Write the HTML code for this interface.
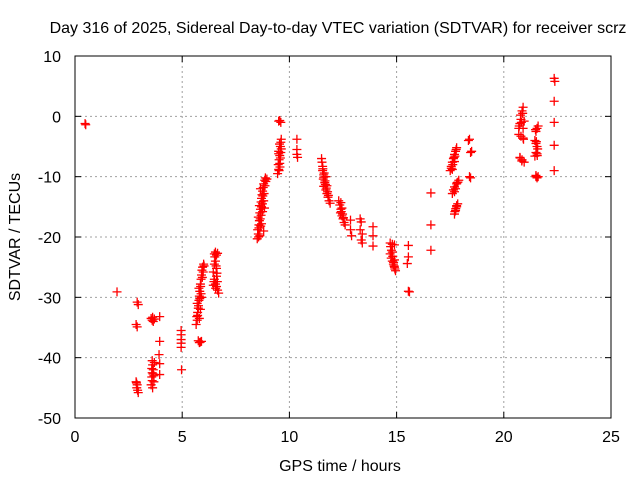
<!DOCTYPE html>
<html><head><meta charset="utf-8"><style>
body{margin:0;background:#fff}
svg{display:block;font-family:"Liberation Sans",sans-serif}
</style></head><body>
<svg id="chart" width="640" height="480">
<text x="338" y="33" text-anchor="middle" font-size="16">Day 316 of 2025, Sidereal Day-to-day VTEC variation (SDTVAR) for receiver scrz</text>
<text x="0" y="0" transform="translate(20,237) rotate(-90)" text-anchor="middle" font-size="16">SDTVAR / TECUs</text>
<text x="340" y="471" text-anchor="middle" font-size="16">GPS time / hours</text>
<g id="grid"></g>
<g id="ticks"></g>
<g id="points"></g>
<rect x="75" y="56" width="536" height="362" fill="none" stroke="#000" stroke-width="1"/>
</svg>
<script>
const xTicks=[0,5,10,15,20,25];
const yTicks=[10,0,-10,-20,-30,-40,-50];
const times=[0.47,0.5,1.96,2.9,2.95,2.85,2.9,2.85,2.9,2.88,2.92,2.95,2.87,3.55,3.6,3.65,3.7,3.62,3.95,3.6,3.62,3.65,3.6,3.58,3.6,3.55,3.62,3.7,3.68,3.95,3.92,3.95,3.95,4.95,4.95,4.95,4.95,4.95,4.97,5.75,5.8,5.85,5.9,5.65,5.7,5.68,5.72,5.75,5.7,5.78,5.8,5.82,5.78,5.85,5.88,5.9,5.92,5.95,6.0,5.9,5.85,6.5,6.55,6.6,6.65,6.5,6.55,6.6,6.45,6.5,6.55,6.6,6.65,6.7,6.45,6.6,8.5,8.55,8.52,8.58,8.6,8.55,8.62,8.65,8.6,8.68,8.7,8.72,8.75,8.78,8.8,8.85,8.88,8.7,8.75,8.8,8.65,8.8,9.5,9.55,9.6,9.45,9.5,9.48,9.52,9.55,9.5,9.58,9.6,9.62,9.55,9.6,10.35,10.35,10.35,10.38,11.5,11.52,11.55,11.55,11.6,11.58,11.65,11.6,11.7,11.75,11.8,11.85,11.9,11.7,11.75,12.3,12.35,12.4,12.38,12.45,12.5,12.55,12.6,12.45,12.85,12.85,12.9,13.3,13.35,13.3,13.4,13.35,13.4,13.9,13.9,13.9,14.7,14.8,14.9,14.7,14.75,14.8,14.85,14.9,14.95,14.8,14.9,15.55,15.55,15.5,15.55,15.6,16.6,16.6,16.6,17.5,17.55,17.6,17.65,17.7,17.75,17.8,17.6,17.7,18.35,18.4,18.45,18.5,18.4,18.45,17.6,17.65,17.7,17.8,17.9,17.75,17.7,17.75,17.8,17.85,17.72,20.7,20.75,20.8,20.78,20.85,20.9,20.95,20.9,20.7,20.8,20.9,20.75,20.85,20.95,21.5,21.55,21.6,21.45,21.5,21.55,21.5,21.45,21.55,21.5,21.55,21.6,22.35,22.38,22.35,22.35,22.35,22.35,
3.58,3.68,3.64,5.72,5.76,5.82,5.86,5.94,5.98,6.02,5.8,5.88,6.52,6.58,6.62,6.48,6.56,6.64,8.58,8.64,8.7,8.74,8.82,8.86,8.9,8.95,8.62,8.68,8.76,8.84,8.56,8.66,9.52,9.56,9.58,9.5,9.62,9.54,11.56,11.62,11.66,11.72,11.78,11.82,11.6,11.68,12.42,12.48,12.52,12.4,14.72,14.76,14.82,14.86,14.88,14.92,17.55,17.62,17.68,17.72,17.78,17.7,17.82,17.86,17.76,17.8,20.72,20.82,20.88,20.76,20.84,20.92,21.48,21.52,21.58,21.5,21.56];
const values=[-1.2,-1.4,-29.1,-30.8,-31.2,-34.5,-34.9,-44.0,-44.5,-45.0,-45.4,-45.8,-44.2,-33.5,-33.8,-34.0,-33.6,-33.3,-33.2,-40.5,-41.2,-42.0,-42.5,-43.2,-43.8,-44.5,-45.0,-40.8,-43.0,-37.3,-39.5,-41.0,-42.8,-35.5,-36.2,-37.0,-37.6,-38.3,-42.0,-37.2,-37.5,-37.4,-37.3,-34.5,-33.8,-33.2,-32.5,-31.8,-31.0,-30.5,-29.8,-29.0,-28.5,-27.8,-27.0,-26.3,-25.5,-25.0,-24.5,-30.0,-32.0,-22.8,-22.5,-23.0,-22.7,-24.5,-24.0,-25.2,-25.8,-27.0,-27.8,-28.2,-28.8,-29.3,-28.0,-26.5,-20.3,-19.5,-18.8,-18.0,-17.3,-16.7,-16.0,-15.4,-14.8,-14.2,-13.6,-13.0,-12.4,-11.8,-11.2,-10.6,-10.2,-17.8,-15.8,-19.0,-12.0,-14.0,-0.8,-0.7,-1.0,-9.5,-8.8,-8.0,-7.2,-6.5,-5.8,-5.0,-4.3,-3.8,-7.8,-6.0,-3.8,-5.5,-6.3,-6.8,-7.0,-7.6,-8.3,-9.0,-9.7,-10.4,-11.0,-11.6,-12.2,-12.8,-13.4,-14.0,-14.4,-10.0,-11.5,-14.0,-14.7,-15.4,-16.0,-16.5,-17.0,-17.6,-18.0,-15.2,-17.2,-18.8,-19.8,-17.0,-17.5,-18.8,-19.5,-20.5,-21.0,-18.3,-19.8,-21.5,-21.0,-21.2,-21.3,-22.8,-23.5,-24.0,-24.5,-25.0,-25.6,-22.5,-23.8,-21.4,-23.3,-24.4,-29.0,-29.1,-12.7,-18.0,-22.2,-9.0,-8.3,-7.6,-7.0,-6.3,-5.8,-5.2,-8.8,-7.5,-4.0,-3.8,-6.0,-5.8,-10.0,-10.2,-12.8,-12.2,-11.7,-11.2,-10.6,-12.0,-16.2,-15.6,-15.0,-14.5,-15.8,-2.0,-1.2,-0.5,0.2,0.9,1.5,-0.8,-2.0,-3.0,-3.3,-3.6,-6.8,-7.2,-7.6,-2.5,-2.0,-1.6,-4.0,-4.5,-5.0,-6.0,-6.6,-6.2,-9.8,-10.2,-10.0,6.3,5.8,2.5,-1.0,-4.8,-9.0,
-41.8,-44.0,-42.7,-33.0,-31.4,-30.2,-28.2,-26.7,-25.8,-24.8,-33.5,-29.4,-23.3,-24.8,-26.0,-27.4,-28.5,-27.4,-18.5,-17.0,-15.0,-14.5,-12.8,-11.5,-10.8,-10.4,-19.8,-16.4,-13.2,-15.2,-20.0,-18.2,-9.0,-8.4,-6.9,-6.2,-5.4,-4.6,-8.7,-9.4,-10.7,-11.9,-12.5,-13.1,-10.1,-11.3,-15.8,-16.2,-16.8,-14.3,-21.6,-22.2,-23.2,-24.2,-24.8,-25.3,-8.6,-8.0,-6.8,-6.6,-5.5,-12.5,-11.0,-10.9,-15.3,-14.8,-1.6,-1.0,0.5,-6.9,-7.4,-3.8,-2.2,-4.2,-5.4,-10.0,-6.5];
const X0=75,X1=611,Y0=56,Y1=418;
function sx(t){return X0+(t-0)/(25-0)*(X1-X0);}
function sy(v){return Y0+(10-v)/(10-(-50))*(Y1-Y0);}
const NS='http://www.w3.org/2000/svg';
function mk(tag,attrs,parent){const e=document.createElementNS(NS,tag);for(const k in attrs)e.setAttribute(k,attrs[k]);parent.appendChild(e);return e;}
const grid=document.getElementById('grid'),ticks=document.getElementById('ticks'),pts=document.getElementById('points');
xTicks.forEach(t=>{const x=sx(t);
 if(t>0&&t<25){const g=mk('line',{x1:x,y1:Y0,x2:x,y2:Y1,stroke:'#a0a0a0','stroke-dasharray':'2,3'},grid);
 
 }
 mk('line',{x1:x,y1:Y1,x2:x,y2:Y1-6,stroke:'#000'},ticks);
 mk('line',{x1:x,y1:Y0,x2:x,y2:Y0+6,stroke:'#000'},ticks);
 const l=mk('text',{x:x,y:Y1+24,'text-anchor':'middle','font-size':'16'},ticks);l.textContent=t;
 
 
});
yTicks.forEach(v=>{const y=sy(v);
 if(v<10&&v>-50){const g=mk('line',{x1:X0,y1:y,x2:X1,y2:y,stroke:'#a0a0a0','stroke-dasharray':'2,3'},grid);
 
 }
 mk('line',{x1:X0,y1:y,x2:X0+6,y2:y,stroke:'#000'},ticks);
 mk('line',{x1:X1,y1:y,x2:X1-6,y2:y,stroke:'#000'},ticks);
 const l=mk('text',{x:X0-14,y:y+6,'text-anchor':'end','font-size':'16'},ticks);l.textContent=v;
 
 
});
times.forEach((t,i)=>{const x=sx(t),y=sy(values[i]);
 const p=mk('path',{d:`M${x-4.5},${y}H${x+4.5}M${x},${y-4.5}V${y+4.5}`,stroke:'#f00','stroke-width':'1.3',fill:'none'},pts);
 
 
});
</script>
</body></html>
